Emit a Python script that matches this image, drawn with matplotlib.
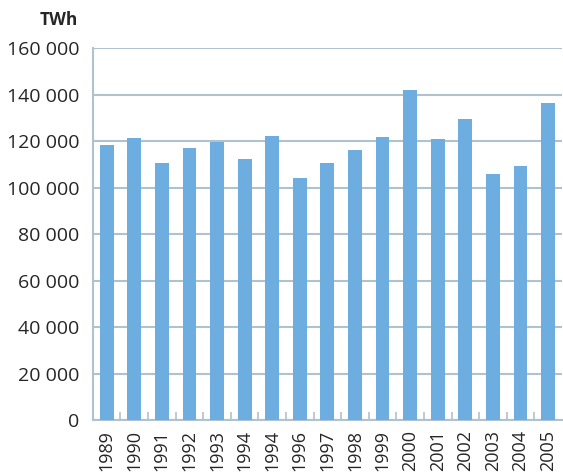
import numpy as np
import matplotlib.pyplot as plt
from matplotlib.ticker import FixedLocator, FuncFormatter

years = ["1989", "1990", "1991", "1992", "1993", "1994", "1994", "1996", "1997",
         "1998", "1999", "2000", "2001", "2002", "2003", "2004", "2005"]
twh = [118300, 121300, 110600, 117000, 119600, 112300, 122200, 104100, 110600,
       116100, 121700, 141900, 120900, 129500, 105800, 109300, 136300]
yticks = [0, 20000, 40000, 60000, 80000, 100000, 120000, 140000, 160000]

bar_color = "#6DADE0"
grid_color = "#AFC2CD"
text_color = "#262626"

plt.rcParams["font.family"] = ["Open Sans", "DejaVu Sans"]

fig = plt.figure(figsize=(5.63, 4.72), dpi=100)
ax = fig.add_axes([0.165, 0.110, 0.833, 0.788])

x = np.arange(len(years))
ax.bar(x, twh, width=0.5, color=bar_color, zorder=3)

ax.set_xlim(-0.5, len(years) - 0.5)
ax.set_ylim(0, 160000)
ax.set_yticks(yticks)
ax.yaxis.set_major_formatter(FuncFormatter(lambda v, p: f"{int(v):,}".replace(",", " ")))
ax.grid(axis="y", color=grid_color, linewidth=1.5, zorder=0)

ax.set_xticks(x)
ax.set_xticklabels(years, rotation=90)
ax.xaxis.set_minor_locator(FixedLocator(x[:-1] + 0.5))
ax.tick_params(axis="x", which="major", length=0, pad=7, labelsize=13, labelcolor=text_color)
ax.tick_params(axis="x", which="minor", direction="in", length=6, color=grid_color, width=1.2)
ax.tick_params(axis="y", length=0, pad=10, labelsize=14, labelcolor=text_color)

for s in ["top", "right"]:
    ax.spines[s].set_visible(False)
for s in ["left", "bottom"]:
    ax.spines[s].set_color(grid_color)
    ax.spines[s].set_linewidth(1.5)

fig.text(0.139, 0.958, "TWh", ha="right", va="center", fontsize=12.5,
         fontweight="bold", color=text_color)

fig.savefig("out.png", dpi=100)
